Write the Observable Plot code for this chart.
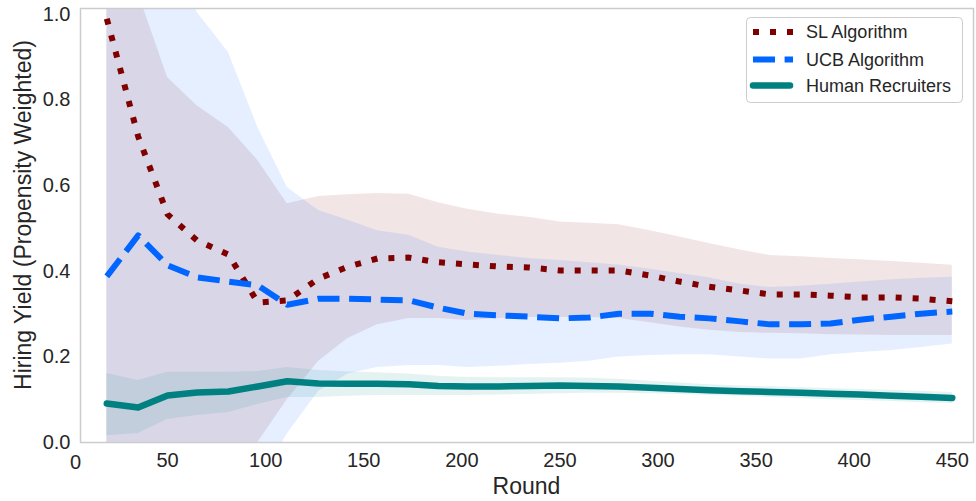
<!DOCTYPE html>
<html><head><meta charset="utf-8">
<script src="https://cdn.jsdelivr.net/npm/d3@7"></script>
<script src="https://cdn.jsdelivr.net/npm/@observablehq/plot@0.6"></script>
<style>
body{margin:0;background:#fff;}
#wrap{position:relative;width:976px;height:501px;}
</style></head><body><div id="wrap"></div>
<script>
const rounds = [19, 35, 50, 65, 81, 96, 111, 127, 142, 157, 173, 188, 203, 219, 234, 250, 265, 280, 296, 311, 326, 342, 357, 373, 388, 403, 419, 434, 450];

const slMean = [0.99, 0.715, 0.533, 0.472, 0.439, 0.327, 0.332, 0.383, 0.411, 0.43, 0.432, 0.421, 0.416, 0.411, 0.409, 0.402, 0.402, 0.402, 0.39, 0.376, 0.364, 0.355, 0.346, 0.346, 0.343, 0.339, 0.339, 0.336, 0.33];
const slLow = [-0.25, -0.2, -0.15, -0.1, -0.05, 0.0, 0.1, 0.19, 0.243, 0.275, 0.29, 0.29, 0.285, 0.29, 0.292, 0.292, 0.292, 0.29, 0.28, 0.27, 0.262, 0.257, 0.255, 0.254, 0.252, 0.251, 0.25, 0.25, 0.25];
const slHigh = [1.35, 1.05, 0.853, 0.787, 0.736, 0.659, 0.558, 0.575, 0.579, 0.582, 0.58, 0.56, 0.545, 0.533, 0.526, 0.515, 0.512, 0.509, 0.495, 0.48, 0.465, 0.45, 0.437, 0.434, 0.43, 0.427, 0.423, 0.419, 0.414];

const ucbMean = [0.388, 0.484, 0.414, 0.386, 0.376, 0.367, 0.322, 0.336, 0.336, 0.334, 0.332, 0.315, 0.301, 0.297, 0.294, 0.29, 0.292, 0.301, 0.301, 0.294, 0.29, 0.283, 0.276, 0.276, 0.278, 0.287, 0.294, 0.301, 0.306];
const ucbLow = [-0.6, -0.5, -0.4, -0.3, -0.2, -0.1, 0.02, 0.12, 0.16, 0.175, 0.18, 0.18, 0.175, 0.178, 0.182, 0.185, 0.19, 0.2, 0.203, 0.205, 0.205, 0.2, 0.195, 0.195, 0.205, 0.21, 0.215, 0.222, 0.23];
const ucbHigh = [1.5, 1.4, 1.2, 1.005, 0.911, 0.736, 0.596, 0.542, 0.519, 0.495, 0.484, 0.456, 0.445, 0.437, 0.43, 0.425, 0.42, 0.415, 0.405, 0.395, 0.385, 0.37, 0.362, 0.365, 0.37, 0.375, 0.38, 0.384, 0.386];

const humanMean = [0.091, 0.082, 0.11, 0.117, 0.119, 0.131, 0.143, 0.138, 0.137, 0.137, 0.136, 0.132, 0.131, 0.131, 0.132, 0.133, 0.132, 0.131, 0.128, 0.125, 0.122, 0.12, 0.118, 0.116, 0.114, 0.112, 0.109, 0.107, 0.104];
const humanLow = [0.016, 0.021, 0.054, 0.063, 0.07, 0.089, 0.105, 0.105, 0.108, 0.11, 0.11, 0.11, 0.11, 0.111, 0.112, 0.114, 0.115, 0.115, 0.114, 0.112, 0.11, 0.108, 0.105, 0.103, 0.1, 0.098, 0.096, 0.093, 0.091];
const humanHigh = [0.161, 0.145, 0.164, 0.164, 0.164, 0.166, 0.175, 0.168, 0.165, 0.163, 0.16, 0.155, 0.152, 0.151, 0.151, 0.151, 0.15, 0.148, 0.143, 0.139, 0.135, 0.132, 0.13, 0.128, 0.126, 0.124, 0.122, 0.12, 0.117];

const seriesNames = ["SL Algorithm", "UCB Algorithm", "Human Recruiters"];
const seriesColors = ["#800000", "#0066ff", "#008080"];
const seriesDash = ["6,11", "22,9.6", null];
const xTicks = [0, 50, 100, 150, 200, 250, 300, 350, 400, 450];
const yTicks = [0.0, 0.2, 0.4, 0.6, 0.8, 1.0];
const xLabel = "Round";
const yLabel = "Hiring Yield (Propensity Weighted)";

const seriesData = [
  [slMean, slLow, slHigh],
  [ucbMean, ucbLow, ucbHigh],
  [humanMean, humanLow, humanHigh]
];
const rows = [];
seriesNames.forEach((name, s) => {
  rounds.forEach((r, i) => {
    rows.push({series: name, round: r, mean: seriesData[s][0][i], low: seriesData[s][1][i], high: seriesData[s][2][i]});
  });
});

const W = 976, H = 501;
const marks = [
  Plot.areaY(rows, {x: "round", y1: "low", y2: "high", z: "series", fill: "series", fillOpacity: 0.1, clip: true})
];
seriesNames.forEach((name, s) => {
  marks.push(Plot.lineY(rows.filter(d => d.series === name), {
    x: "round", y: "mean", stroke: seriesColors[s], strokeWidth: s === 2 ? 6.5 : 6,
    strokeDasharray: seriesDash[s] || undefined, strokeLinecap: s === 2 ? "round" : "butt",
    strokeLinejoin: "round", clip: true
  }));
});
marks.push(Plot.frame({stroke: "#cccccc", strokeWidth: 1.5}));
marks.push(Plot.axisX(xTicks.filter(t => t > 0), {tickSize: 0, tickPadding: 10, fontSize: 20, label: null, fill: "#262626"}));
marks.push(Plot.axisX(xTicks.filter(t => t === 0), {tickSize: 0, tickPadding: 12, fontSize: 20, label: null, fill: "#262626", dx: 6}));
marks.push(Plot.axisY(yTicks, {tickSize: 0, tickPadding: 10, fontSize: 20, label: null, fill: "#262626", tickFormat: d3.format(".1f")}));

const chart = Plot.plot({
  width: W, height: H,
  marginLeft: 80, marginRight: 3, marginTop: 8, marginBottom: 59,
  x: {domain: [5.6, 460.8]},
  y: {domain: [0, 1.014]},
  color: {domain: seriesNames, range: seriesColors},
  style: {fontFamily: "'Liberation Sans', Arial, sans-serif", color: "#262626", background: "#fff", overflow: "visible"},
  marks
});
document.getElementById("wrap").appendChild(chart);

const svg = d3.select(chart);
const font = "'Liberation Sans', Arial, sans-serif";
svg.append("text").attr("x", 526.5).attr("y", 494).attr("text-anchor", "middle")
  .attr("font-size", 23).attr("font-family", font).attr("fill", "#262626").text(xLabel);
svg.append("text").attr("transform", "translate(31,215) rotate(-90)").attr("text-anchor", "middle")
  .attr("font-size", 23).attr("font-family", font).attr("fill", "#262626").text(yLabel);

// legend
const lg = svg.append("g");
lg.append("rect").attr("x", 746.5).attr("y", 17.5).attr("width", 216).attr("height", 85).attr("rx", 4)
  .attr("fill", "rgba(255,255,255,0.8)").attr("stroke", "#cccccc").attr("stroke-width", 1);
const rowY = [32, 59.5, 85.5];
seriesNames.forEach((name, s) => {
  const ln = lg.append("line").attr("x1", s === 2 ? 753 : 753).attr("x2", s === 2 ? 790 : 793)
    .attr("y1", rowY[s]).attr("y2", rowY[s]).attr("stroke", seriesColors[s])
    .attr("stroke-width", s === 2 ? 6.5 : 6).attr("stroke-linecap", s === 2 ? "round" : "butt");
  if (seriesDash[s]) ln.attr("stroke-dasharray", seriesDash[s]);
  lg.append("text").attr("x", 806).attr("y", rowY[s]).attr("dy", "0.35em").attr("text-anchor", "start")
    .attr("font-size", 18).attr("font-family", font).attr("fill", "#262626").text(name);
});
</script></body></html>
